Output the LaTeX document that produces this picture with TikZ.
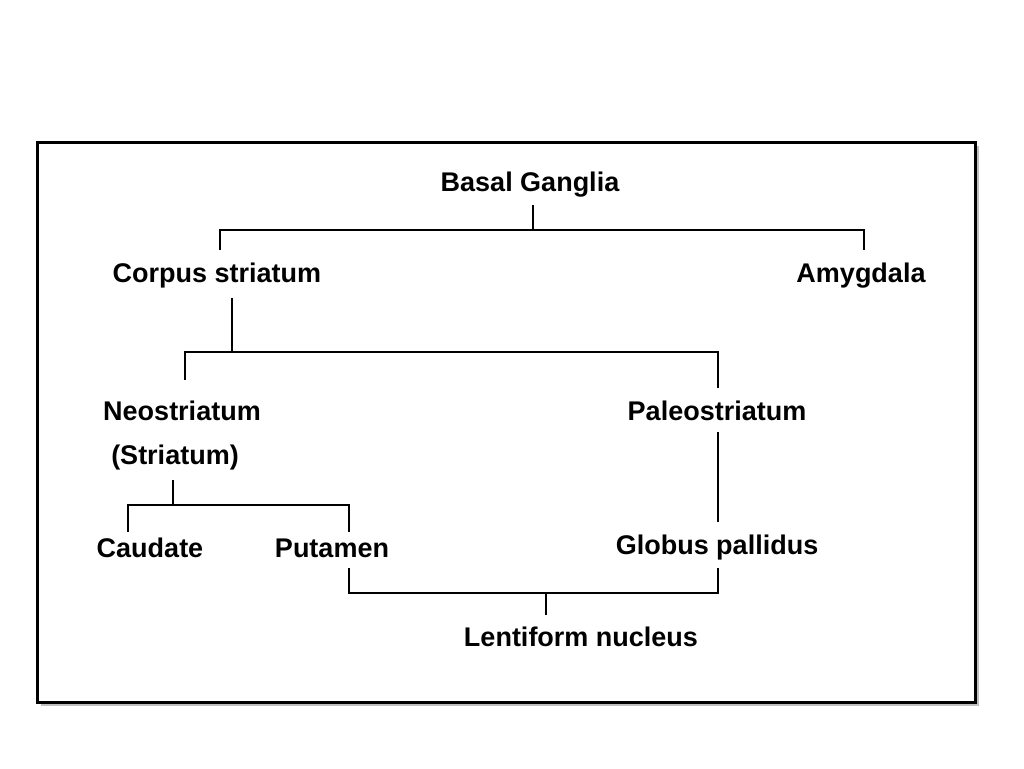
\documentclass[tikz,border=0pt]{standalone}
\usepackage{fontspec}
\setmainfont{Liberation Sans}
\begin{document}
\begin{tikzpicture}[x=1pt,y=-1pt,
  lbl/.style={font=\fontsize{27}{30}\selectfont\bfseries,inner sep=0pt,anchor=center},
  ln/.style={line width=2.5pt}]
\useasboundingbox (0,0) rectangle (1024,768);
\fill[gray!50] (41,146) rectangle (979,706);
\draw[line width=3pt,fill=white] (37,142) rectangle (975,702);
\node[lbl] (bg) at (530,185) {Basal Ganglia};
\node[lbl] (cs) at (217,276) {Corpus striatum};
\node[lbl] (am) at (861,276) {Amygdala};
\node[lbl] (ns) at (182,411) {Neostriatum};
\node[lbl] (st) at (175,458) {(Striatum)};
\node[lbl] (ps) at (717,411) {Paleostriatum};
\node[lbl] (ca) at (150,548) {Caudate};
\node[lbl] (pu) at (332,548) {Putamen};
\node[lbl] (gp) at (717,548) {Globus pallidus};
\node[lbl] (ln) at (581,637) {Lentiform nucleus};
\draw[ln] (533,205) -- (533,230);
\draw[ln] (220,250) -- (220,230) -- (864,230) -- (864,250);
\draw[ln] (232,298) -- (232,352);
\draw[ln] (185,380) -- (185,352) -- (718,352) -- (718,388);
\draw[ln] (718,432) -- (718,522);
\draw[ln] (173,480) -- (173,505);
\draw[ln] (128,532) -- (128,505) -- (349,505) -- (349,532);
\draw[ln] (349,568) -- (349,593) -- (718,593) -- (718,568);
\draw[ln] (546,593) -- (546,615);
\end{tikzpicture}
\end{document}
